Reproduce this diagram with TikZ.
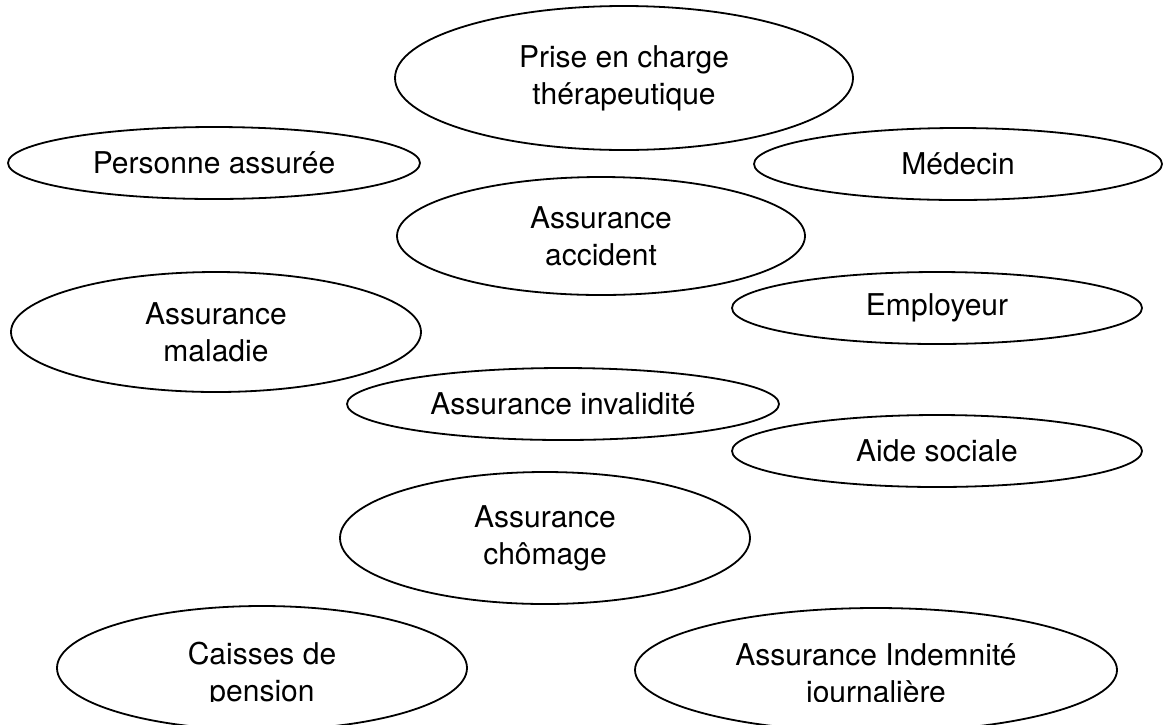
\documentclass[tikz,border=0pt]{standalone}
\usepackage{fontspec}
\setmainfont{TeX Gyre Heros}
\usepackage{tikz}
\usetikzlibrary{shapes.geometric}

\begin{document}
\begin{tikzpicture}[line cap=round,line join=round,x=0.5pt,y=-0.5pt,
    ell/.style={ellipse, draw, line width=0.9pt, inner sep=0pt, align=center,
      font=\fontsize{15}{18.5}\selectfont},
    lbl/.style={inner sep=0pt, align=center, font=\fontsize{15}{18.5}\selectfont}]
    \useasboundingbox (0,0) rectangle (1165,724);

    \node[ell, minimum width=229pt, minimum height=72pt] (prise) at (624,78) {Prise en charge\\th\'erapeutique};
    \node[ell, minimum width=206pt, minimum height=36pt] (pers) at (214,163) {Personne assur\'ee};
    \node[ell, minimum width=204pt, minimum height=36pt] (med) at (958,164) {M\'edecin};
    \node[ell, minimum width=204pt, minimum height=59pt] (accid) at (601,236) {Assurance\\accident};
    \node[ell, minimum width=205pt, minimum height=60pt] (malad) at (216,332) {Assurance\\maladie};
    \node[ell, minimum width=205pt, minimum height=36pt] (empl) at (937,308) {Employeur};
    \node[ell, minimum width=216pt, minimum height=36pt] (inval) at (563,404) {Assurance invalidit\'e};
    \node[ell, minimum width=205pt, minimum height=36pt] (aide) at (937,451) {Aide sociale};
    \node[ell, minimum width=205pt, minimum height=66pt] (chom) at (545,538) {Assurance\\ch\^omage};

    \node[ell, minimum width=205pt, minimum height=62pt] (caisse) at (262,668) {};
    \node[ell, minimum width=241pt, minimum height=62pt] (indem) at (876,670) {};
    \begin{scope}
      \clip (0,0) rectangle (1165,701);
      \node[lbl] (caissetxt) at (262,675) {Caisses de\\pension};
      \node[lbl] (indemtxt) at (876,676) {Assurance Indemnit\'e\\journali\`ere};
    \end{scope}
\end{tikzpicture}
\end{document}
